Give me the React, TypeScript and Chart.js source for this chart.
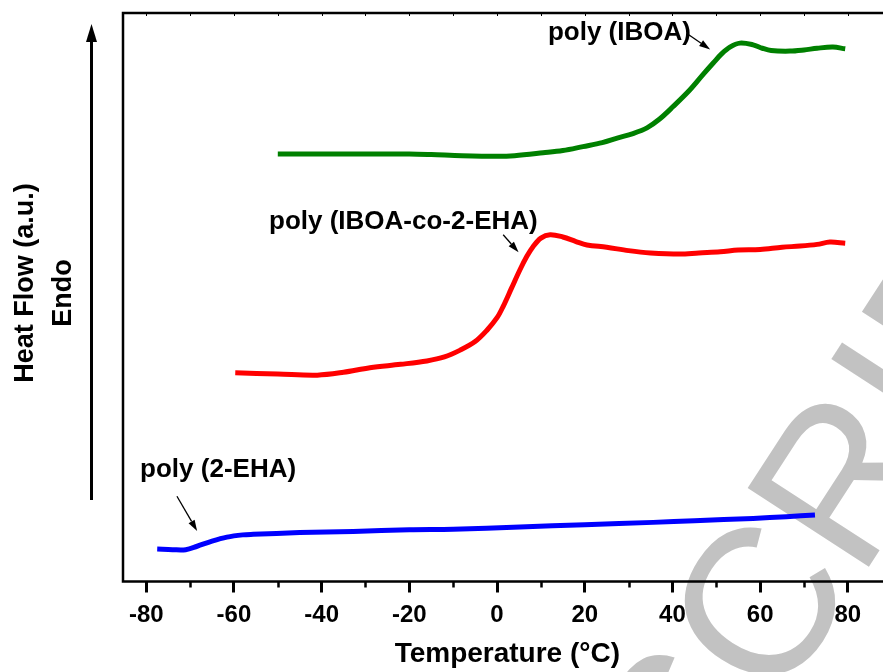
import { useEffect, useRef } from 'react';
import { Chart, registerables } from 'chart.js';

Chart.register(...registerables);

// ---- data (temperature °C, heat flow a.u.) ----
const xTickValues = [-80, -60, -40, -20, 0, 20, 40, 60, 80];
const xMinorTickValues = [-70, -50, -30, -10, 10, 30, 50, 70];

const ibOATemp = [-50, -40, -30, -20, -15, -8, 0, 4, 10.5, 15, 19.6, 24, 27.4, 31, 34.2, 37, 40.1, 44, 47, 49.3, 51.2, 53.1, 55.4, 58.4, 60.5, 62.5, 66.8, 70, 73, 76.6, 79.4];
const ibOAFlow = [75.2, 75.2, 75.2, 75.2, 75.1, 74.9, 74.8, 74.9, 75.4, 75.8, 76.5, 77.2, 78.0, 78.8, 79.8, 81.3, 83.5, 86.5, 89.2, 91.2, 92.8, 94.0, 94.7, 94.4, 93.8, 93.4, 93.3, 93.5, 93.8, 94.0, 93.7];

const coTemp = [-59.7, -50, -41, -35, -29, -22, -16, -12, -8.4, -5, -2.3, 0, 1.4, 3.3, 5.2, 6.8, 8.2, 10, 12.1, 15, 18, 20.5, 25, 30, 35, 41.7, 46, 50.9, 55, 60, 65, 69.1, 73, 75.9, 79.4];
const coFlow = [36.7, 36.5, 36.3, 36.8, 37.6, 38.2, 38.8, 39.5, 40.7, 42.2, 44.2, 46.4, 48.4, 51.6, 54.8, 57.2, 58.9, 60.4, 61.0, 60.6, 59.8, 59.2, 58.8, 58.2, 57.8, 57.6, 57.8, 58.0, 58.3, 58.4, 58.8, 59.0, 59.3, 59.7, 59.5];

const ehaTemp = [-77.5, -74, -71, -68.4, -65, -61.6, -58, -55.6, -45, -32.8, -20, -10, 5.2, 20, 35.6, 45, 58.4, 66, 72.5];
const ehaFlow = [5.7, 5.6, 5.6, 6.2, 7.1, 7.8, 8.2, 8.3, 8.6, 8.8, 9.1, 9.2, 9.6, 10.0, 10.4, 10.7, 11.1, 11.4, 11.7];

const seriesNames = ['poly (IBOA)', 'poly (IBOA-co-2-EHA)', 'poly (2-EHA)'];

// annotation label anchors (data coords) and arrows [x0, y0, x1, y1]
const labelAnchorX = [11.6, -52, -81.4];
const labelAnchorY = [96.5, 63.2, 19.6];
const labelArrows = [
  [43.3, 96.4, 48.6, 93.6],
  [1.4, 61.0, 4.9, 57.9],
  [-73.0, 15.0, -68.4, 8.9],
];

const watermarkText = 'ACCEPTED MANUSCRIPT';

const FONT = '"Liberation Sans", Arial, Helvetica, sans-serif';

function pts(xs: number[], ys: number[]) {
  return xs.map((x, i) => ({ x, y: ys[i] }));
}

function arrow(ctx: CanvasRenderingContext2D, x0: number, y0: number, x1: number, y1: number, lw: number, headLen: number, headW: number) {
  const ang = Math.atan2(y1 - y0, x1 - x0);
  const bx = x1 - headLen * Math.cos(ang);
  const by = y1 - headLen * Math.sin(ang);
  ctx.save();
  ctx.strokeStyle = '#000';
  ctx.fillStyle = '#000';
  ctx.lineWidth = lw;
  ctx.beginPath();
  ctx.moveTo(x0, y0);
  ctx.lineTo(bx, by);
  ctx.stroke();
  ctx.beginPath();
  ctx.moveTo(x1, y1);
  ctx.lineTo(bx + (headW / 2) * Math.sin(ang), by - (headW / 2) * Math.cos(ang));
  ctx.lineTo(bx - (headW / 2) * Math.sin(ang), by + (headW / 2) * Math.cos(ang));
  ctx.closePath();
  ctx.fill();
  ctx.restore();
}

const watermarkPlugin = {
  id: 'watermark',
  beforeDraw(chart: any) {
    const { ctx } = chart;
    ctx.save();
    ctx.fillStyle = '#c2c2c2';
    ctx.font = `210px ${FONT}`;
    ctx.textAlign = 'right';
    ctx.textBaseline = 'alphabetic';
    ctx.translate(1120, 180);
    ctx.rotate((-57 * Math.PI) / 180);
    ctx.fillText(watermarkText, 0, 0);
    ctx.restore();
  },
};

const framePlugin = {
  id: 'frameAndNotes',
  afterDraw(chart: any) {
    const { ctx, chartArea: a, scales } = chart;
    const xs = scales.x;
    const ys = scales.y;
    ctx.save();
    // frame
    ctx.strokeStyle = '#000';
    ctx.lineWidth = 2.5;
    ctx.strokeRect(a.left, a.top, a.right - a.left, a.bottom - a.top);
    // minor ticks bottom
    ctx.beginPath();
    for (const v of xMinorTickValues) {
      const p = Math.round(xs.getPixelForValue(v)) + 0.5;
      ctx.moveTo(p, a.bottom);
      ctx.lineTo(p, a.bottom + 6);
    }
    ctx.stroke();
    // faint ticks on top frame
    ctx.lineWidth = 1;
    ctx.beginPath();
    for (const v of [...xTickValues, ...xMinorTickValues]) {
      const p = Math.round(xs.getPixelForValue(v)) + 0.5;
      ctx.moveTo(p, a.top);
      ctx.lineTo(p, a.top + 3);
    }
    ctx.stroke();

    // y title
    ctx.fillStyle = '#000';
    ctx.font = `bold 27px ${FONT}`;
    ctx.textAlign = 'center';
    ctx.textBaseline = 'middle';
    ctx.save();
    ctx.translate(26, 283);
    ctx.rotate(-Math.PI / 2);
    ctx.fillText('Heat Flow (a.u.)', 0, 0);
    ctx.restore();
    ctx.save();
    ctx.translate(64, 293);
    ctx.rotate(-Math.PI / 2);
    ctx.fillText('Endo', 0, 0);
    ctx.restore();
    // Endo arrow
    arrow(ctx, 91.5, 500, 91.5, 24, 3, 18, 11);

    // series labels
    ctx.font = `bold 26px ${FONT}`;
    ctx.textAlign = 'left';
    ctx.textBaseline = 'middle';
    seriesNames.forEach((name, i) => {
      ctx.fillText(name, xs.getPixelForValue(labelAnchorX[i]), ys.getPixelForValue(labelAnchorY[i]));
      const [x0, y0, x1, y1] = labelArrows[i];
      arrow(ctx, xs.getPixelForValue(x0), ys.getPixelForValue(y0), xs.getPixelForValue(x1), ys.getPixelForValue(y1), 1.3, 11, 7);
    });
    ctx.restore();
  },
};

export default function App() {
  const ref = useRef<HTMLCanvasElement | null>(null);
  useEffect(() => {
    document.body.style.margin = '0';
    document.body.style.overflow = 'hidden';
    const canvas = ref.current!;
    const chart = new Chart(canvas, {
      type: 'line',
      data: {
        datasets: [
          { label: seriesNames[0], data: pts(ibOATemp, ibOAFlow), borderColor: '#008000' },
          { label: seriesNames[1], data: pts(coTemp, coFlow), borderColor: '#ff0000' },
          { label: seriesNames[2], data: pts(ehaTemp, ehaFlow), borderColor: '#0000ff' },
        ],
      },
      options: {
        animation: false,
        responsive: false,
        parsing: false as any,
        layout: { padding: { left: 123, top: 13, right: 8.3, bottom: 0 } },
        elements: {
          line: { borderWidth: 5, tension: 0.35, fill: false, borderCapStyle: 'butt' },
          point: { radius: 0, hoverRadius: 0 },
        },
        plugins: { legend: { display: false }, tooltip: { enabled: false } },
        events: [],
        scales: {
          x: {
            type: 'linear',
            position: 'bottom',
            min: -85.3,
            max: 90,
            afterBuildTicks: (scale: any) => {
              scale.ticks = xTickValues.map((v) => ({ value: v }));
            },
            afterFit: (scale: any) => {
              scale.height = 90.5;
            },
            ticks: {
              color: '#000',
              font: { family: FONT, size: 24, weight: 'bold' },
              padding: 8,
              maxRotation: 0,
              autoSkip: false,
              callback: (v: any) => String(v),
            },
            grid: {
              display: true,
              drawOnChartArea: false,
              drawTicks: true,
              tickLength: 11,
              tickWidth: 3,
              tickColor: '#000',
            },
            border: { display: false },
            title: {
              display: true,
              text: 'Temperature (°C)',
              color: '#000',
              font: { family: FONT, size: 28, weight: 'bold' },
              padding: { top: 0, bottom: 1 },
            },
          },
          y: {
            type: 'linear',
            display: false,
            min: 0,
            max: 100,
          },
        },
      },
      plugins: [watermarkPlugin, framePlugin],
    });
    return () => chart.destroy();
  }, []);
  return (
    <div style={{ position: 'fixed', left: 0, top: 0, width: 883, height: 672, overflow: 'hidden', background: '#fff' }}>
      <canvas ref={ref} width={900} height={672} style={{ display: 'block', width: 900, height: 672 }} />
    </div>
  );
}
